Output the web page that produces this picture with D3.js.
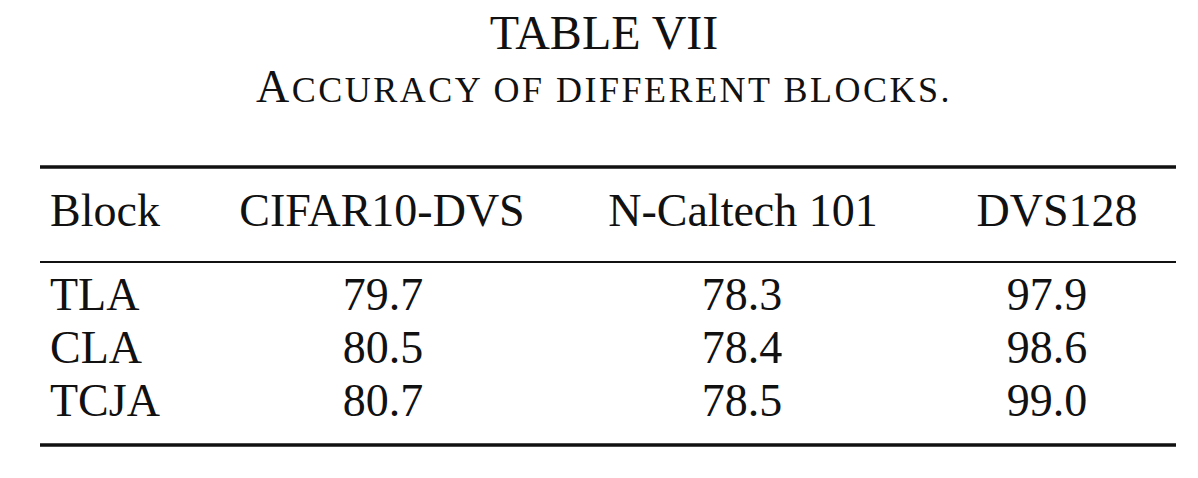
<!DOCTYPE html>
<html><head><meta charset="utf-8">
<script src="https://cdn.jsdelivr.net/npm/d3@7"></script>
<style>body{margin:0;background:#fff}text{font-family:"Liberation Serif","DejaVu Serif",serif;fill:#111}</style>
</head><body><svg id="c" width="1198" height="478"></svg>
<script>
var columns = ['Block','CIFAR10-DVS','N-Caltech 101','DVS128'];
var blocks = ['TLA','CLA','TCJA'];
var cifar = ['79.7','80.5','80.7'];
var caltech = ['78.3','78.4','78.5'];
var dvs = ['97.9','98.6','99.0'];

var svg = d3.select('#c');
var x = d3.scaleOrdinal().domain(columns).range([50, 382, 743, 1057]);
var xv = d3.scaleOrdinal().domain(columns).range([50, 383, 742, 1047]);
var y = d3.scalePoint().domain(blocks).range([310, 416]);

svg.append('text').attr('x', 604).attr('y', 49).attr('text-anchor','middle')
    .style('font-size','48px').text('TABLE VII');
var sub = svg.append('text').attr('x', 604).attr('y', 102).attr('text-anchor','middle')
    .style('font-size','46px').style('letter-spacing','2.5px');
sub.append('tspan').text('A');
sub.append('tspan').style('font-size','36px').text('CCURACY OF DIFFERENT BLOCKS.');

[[167,3.5],[262,2],[445,3.5]].forEach(function(r){
    svg.append('line').attr('x1',40).attr('x2',1176).attr('y1',r[0]).attr('y2',r[0])
        .attr('stroke','#111').attr('stroke-width',r[1]);
});

columns.forEach(function(c,i){
    svg.append('text').attr('x', x(c)).attr('y', 226)
        .attr('text-anchor', i==0 ? 'start' : 'middle')
        .style('font-size','46px').text(c);
});

var cols = [blocks, cifar, caltech, dvs];
blocks.forEach(function(b,r){
    cols.forEach(function(col,i){
        svg.append('text').attr('x', xv(columns[i])).attr('y', y(b))
            .attr('text-anchor', i==0 ? 'start' : 'middle')
            .style('font-size','46px').text(col[r]);
    });
});
</script></body></html>
